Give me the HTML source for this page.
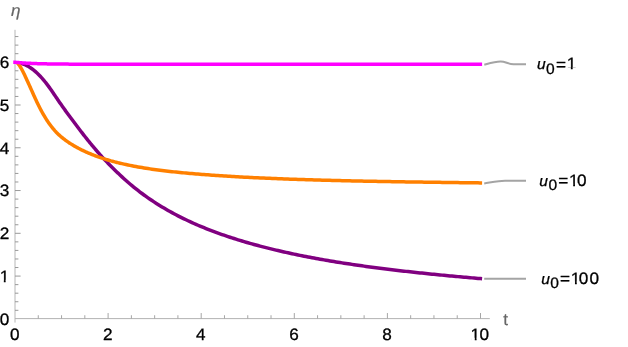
<!DOCTYPE html>
<html><head><meta charset="utf-8"><title>plot</title>
<style>
html,body{margin:0;padding:0;background:#fff;}
body{width:628px;height:347px;overflow:hidden;font-family:"Liberation Sans",sans-serif;}
svg{display:block;will-change:transform;}
svg text{font-family:"Liberation Sans",sans-serif;text-rendering:geometricPrecision;}
</style></head><body>
<svg width="628" height="347" viewBox="0 0 628 347">
<rect width="628" height="347" fill="#fff"/>
<g stroke-width="1" fill="none">
<line stroke="#b6b6b6" x1="15.0" y1="29.8" x2="15.0" y2="322.6"/>
<line stroke="#b2b2b2" x1="15.0" y1="318.62" x2="489.8" y2="318.62"/>
<g stroke="#999"><line x1="15.00" y1="310.30" x2="18.40" y2="310.30"/><line x1="15.00" y1="301.74" x2="18.40" y2="301.74"/><line x1="15.00" y1="293.19" x2="18.40" y2="293.19"/><line x1="15.00" y1="284.63" x2="18.40" y2="284.63"/><line x1="15.00" y1="276.08" x2="20.60" y2="276.08"/><line x1="15.00" y1="267.53" x2="18.40" y2="267.53"/><line x1="15.00" y1="258.97" x2="18.40" y2="258.97"/><line x1="15.00" y1="250.42" x2="18.40" y2="250.42"/><line x1="15.00" y1="241.86" x2="18.40" y2="241.86"/><line x1="15.00" y1="233.31" x2="20.60" y2="233.31"/><line x1="15.00" y1="224.76" x2="18.40" y2="224.76"/><line x1="15.00" y1="216.20" x2="18.40" y2="216.20"/><line x1="15.00" y1="207.65" x2="18.40" y2="207.65"/><line x1="15.00" y1="199.09" x2="18.40" y2="199.09"/><line x1="15.00" y1="190.54" x2="20.60" y2="190.54"/><line x1="15.00" y1="181.99" x2="18.40" y2="181.99"/><line x1="15.00" y1="173.43" x2="18.40" y2="173.43"/><line x1="15.00" y1="164.88" x2="18.40" y2="164.88"/><line x1="15.00" y1="156.32" x2="18.40" y2="156.32"/><line x1="15.00" y1="147.77" x2="20.60" y2="147.77"/><line x1="15.00" y1="139.22" x2="18.40" y2="139.22"/><line x1="15.00" y1="130.66" x2="18.40" y2="130.66"/><line x1="15.00" y1="122.11" x2="18.40" y2="122.11"/><line x1="15.00" y1="113.55" x2="18.40" y2="113.55"/><line x1="15.00" y1="105.00" x2="20.60" y2="105.00"/><line x1="15.00" y1="96.45" x2="18.40" y2="96.45"/><line x1="15.00" y1="87.89" x2="18.40" y2="87.89"/><line x1="15.00" y1="79.34" x2="18.40" y2="79.34"/><line x1="15.00" y1="70.78" x2="18.40" y2="70.78"/><line x1="15.00" y1="62.23" x2="20.60" y2="62.23"/><line x1="15.00" y1="53.68" x2="18.40" y2="53.68"/><line x1="15.00" y1="45.12" x2="18.40" y2="45.12"/><line x1="15.00" y1="36.57" x2="18.40" y2="36.57"/></g>
<g stroke="#a6a6a6"><line x1="38.27" y1="318.62" x2="38.27" y2="315.22"/><line x1="61.55" y1="318.62" x2="61.55" y2="315.22"/><line x1="84.82" y1="318.62" x2="84.82" y2="315.22"/><line x1="108.10" y1="318.62" x2="108.10" y2="313.02"/><line x1="131.38" y1="318.62" x2="131.38" y2="315.22"/><line x1="154.65" y1="318.62" x2="154.65" y2="315.22"/><line x1="177.92" y1="318.62" x2="177.92" y2="315.22"/><line x1="201.20" y1="318.62" x2="201.20" y2="313.02"/><line x1="224.47" y1="318.62" x2="224.47" y2="315.22"/><line x1="247.75" y1="318.62" x2="247.75" y2="315.22"/><line x1="271.02" y1="318.62" x2="271.02" y2="315.22"/><line x1="294.30" y1="318.62" x2="294.30" y2="313.02"/><line x1="317.57" y1="318.62" x2="317.57" y2="315.22"/><line x1="340.85" y1="318.62" x2="340.85" y2="315.22"/><line x1="364.12" y1="318.62" x2="364.12" y2="315.22"/><line x1="387.40" y1="318.62" x2="387.40" y2="313.02"/><line x1="410.67" y1="318.62" x2="410.67" y2="315.22"/><line x1="433.95" y1="318.62" x2="433.95" y2="315.22"/><line x1="457.22" y1="318.62" x2="457.22" y2="315.22"/><line x1="480.50" y1="318.62" x2="480.50" y2="313.02"/></g>
</g>
<g font-size="16.5" fill="#000" stroke="#000" stroke-width="0.3" transform="scale(1.04 1)"><text x="8.85" y="324.70" text-anchor="end">0</text><text x="8.85" y="281.93" text-anchor="end">1</text><text x="8.85" y="239.16" text-anchor="end">2</text><text x="8.85" y="196.39" text-anchor="end">3</text><text x="8.85" y="153.62" text-anchor="end">4</text><text x="8.85" y="110.85" text-anchor="end">5</text><text x="8.85" y="68.08" text-anchor="end">6</text><text x="14.13" y="339.9" text-anchor="middle">0</text><text x="103.65" y="339.9" text-anchor="middle">2</text><text x="193.17" y="339.9" text-anchor="middle">4</text><text x="282.69" y="339.9" text-anchor="middle">6</text><text x="372.21" y="339.9" text-anchor="middle">8</text><text x="452.50 461.15" y="339.9">10</text></g>
<text x="10.67" y="16.2" transform="scale(1.04 1)" font-size="16.5" font-style="italic" fill="#666" stroke="#666" stroke-width="0.2">η</text>
<text x="483.94" y="325.2" transform="scale(1.04 1)" font-size="16.5" fill="#666" stroke="#666" stroke-width="0.2">t</text>
<g fill="none" stroke-width="3.5" stroke-linecap="butt" stroke-linejoin="round">
<path stroke="#800080" d="M19.50,63.10 L20.25,63.25 L21.00,63.42 L21.75,63.62 L22.50,63.84 L23.25,64.08 L24.00,64.36 L24.75,64.65 L25.50,64.98 L26.25,65.33 L27.00,65.70 L27.75,66.10 L28.50,66.53 L29.25,66.98 L30.00,67.45 L30.75,67.95 L31.50,68.48 L32.25,69.03 L33.00,69.60 L33.75,70.19 L34.50,70.81 L35.25,71.45 L36.00,72.11 L36.75,72.80 L37.50,73.51 L38.25,74.23 L39.00,74.99 L39.75,75.76 L40.50,76.55 L41.25,77.36 L42.00,78.20 L42.75,79.05 L43.50,79.93 L44.25,80.83 L45.00,81.74 L45.75,82.68 L46.50,83.63 L47.25,84.61 L48.00,85.60 L48.75,86.61 L49.50,87.64 L50.25,88.69 L51.00,89.76 L51.75,90.84 L52.50,91.94 L53.25,93.04 L54.00,94.15 L54.75,95.26 L55.50,96.38 L56.25,97.49 L57.00,98.60 L57.75,99.70 L58.50,100.80 L59.25,101.89 L60.00,102.98 L60.75,104.05 L61.50,105.12 L62.25,106.19 L63.00,107.25 L63.75,108.30 L64.50,109.34 L65.25,110.38 L66.00,111.42 L66.75,112.45 L67.50,113.48 L68.25,114.50 L69.00,115.52 L69.75,116.54 L70.50,117.55 L71.25,118.56 L72.00,119.57 L72.75,120.57 L73.50,121.57 L74.25,122.57 L75.00,123.57 L75.75,124.57 L76.50,125.56 L77.25,126.55 L78.00,127.54 L78.75,128.52 L79.50,129.50 L80.25,130.48 L81.00,131.45 L81.75,132.43 L82.50,133.39 L83.25,134.36 L84.00,135.31 L84.75,136.27 L85.50,137.22 L86.25,138.17 L87.00,139.11 L87.75,140.04 L88.50,140.98 L89.25,141.90 L90.00,142.83 L90.75,143.74 L91.50,144.65 L92.25,145.56 L93.00,146.46 L93.75,147.35 L94.50,148.24 L95.25,149.13 L96.00,150.00 L96.75,150.87 L97.50,151.74 L98.25,152.60 L99.00,153.45 L99.75,154.30 L100.50,155.14 L101.25,155.97 L102.00,156.80 L102.75,157.62 L103.50,158.44 L104.25,159.24 L105.00,160.05 L105.75,160.84 L106.50,161.63 L107.25,162.41 L108.00,163.19 L108.75,163.96 L109.50,164.73 L110.25,165.49 L111.00,166.24 L111.75,167.00 L112.50,167.74 L113.25,168.49 L114.00,169.23 L114.75,169.97 L115.50,170.70 L116.25,171.43 L117.00,172.16 L117.75,172.88 L118.50,173.60 L119.25,174.31 L120.00,175.02 L122.00,176.89 L124.00,178.72 L126.00,180.51 L128.00,182.27 L130.00,183.98 L132.00,185.66 L134.00,187.30 L136.00,188.91 L138.00,190.48 L140.00,192.02 L142.00,193.52 L144.00,194.99 L146.00,196.43 L148.00,197.84 L150.00,199.22 L152.00,200.57 L154.00,201.89 L156.00,203.18 L158.00,204.45 L160.00,205.69 L162.00,206.91 L164.00,208.10 L166.00,209.27 L168.00,210.42 L170.00,211.54 L172.00,212.65 L174.00,213.73 L176.00,214.79 L178.00,215.83 L180.00,216.85 L182.00,217.85 L184.00,218.83 L186.00,219.79 L188.00,220.74 L190.00,221.67 L192.00,222.58 L194.00,223.48 L196.00,224.36 L198.00,225.23 L200.00,226.08 L202.00,226.91 L204.00,227.73 L206.00,228.54 L208.00,229.33 L210.00,230.11 L212.00,230.88 L214.00,231.63 L216.00,232.38 L218.00,233.11 L220.00,233.82 L222.00,234.53 L224.00,235.22 L226.00,235.91 L228.00,236.58 L230.00,237.24 L232.00,237.90 L234.00,238.54 L236.00,239.17 L238.00,239.80 L240.00,240.41 L242.00,241.02 L244.00,241.61 L246.00,242.20 L248.00,242.78 L250.00,243.35 L252.00,243.91 L254.00,244.47 L256.00,245.02 L258.00,245.56 L260.00,246.09 L262.00,246.61 L264.00,247.13 L266.00,247.64 L268.00,248.15 L270.00,248.64 L272.00,249.13 L274.00,249.62 L276.00,250.10 L278.00,250.57 L280.00,251.03 L282.00,251.49 L284.00,251.94 L286.00,252.39 L288.00,252.83 L290.00,253.27 L292.00,253.70 L294.00,254.12 L296.00,254.54 L298.00,254.95 L300.00,255.36 L302.00,255.76 L304.00,256.16 L306.00,256.56 L308.00,256.94 L310.00,257.33 L312.00,257.71 L314.00,258.08 L316.00,258.45 L318.00,258.81 L320.00,259.17 L322.00,259.53 L324.00,259.88 L326.00,260.23 L328.00,260.57 L330.00,260.91 L332.00,261.25 L334.00,261.58 L336.00,261.91 L338.00,262.23 L340.00,262.55 L342.00,262.87 L344.00,263.18 L346.00,263.49 L348.00,263.79 L350.00,264.10 L352.00,264.39 L354.00,264.69 L356.00,264.98 L358.00,265.27 L360.00,265.56 L362.00,265.84 L364.00,266.12 L366.00,266.40 L368.00,266.67 L370.00,266.94 L372.00,267.21 L374.00,267.47 L376.00,267.74 L378.00,268.00 L380.00,268.25 L382.00,268.51 L384.00,268.76 L386.00,269.01 L388.00,269.26 L390.00,269.50 L392.00,269.74 L394.00,269.98 L396.00,270.22 L398.00,270.46 L400.00,270.69 L402.00,270.92 L404.00,271.15 L406.00,271.37 L408.00,271.60 L410.00,271.82 L412.00,272.04 L414.00,272.26 L416.00,272.47 L418.00,272.69 L420.00,272.90 L422.00,273.11 L424.00,273.32 L426.00,273.53 L428.00,273.73 L430.00,273.94 L432.00,274.14 L434.00,274.34 L436.00,274.54 L438.00,274.73 L440.00,274.93 L442.00,275.12 L444.00,275.32 L446.00,275.51 L448.00,275.70 L450.00,275.89 L452.00,276.07 L454.00,276.26 L456.00,276.44 L458.00,276.62 L460.00,276.81 L462.00,276.99 L464.00,277.17 L466.00,277.34 L468.00,277.52 L470.00,277.70 L472.00,277.87 L474.00,278.04 L476.00,278.22 L478.00,278.39 L480.00,278.56 L480.50,278.60 L482.10,278.74"/>
<path stroke="#ff8000" d="M17.25,62.87 L18.00,63.63 L18.75,64.54 L19.50,65.59 L20.25,66.75 L21.00,68.01 L21.75,69.35 L22.50,70.76 L23.25,72.23 L24.00,73.75 L24.75,75.31 L25.50,76.90 L26.25,78.52 L27.00,80.16 L27.75,81.80 L28.50,83.47 L29.25,85.13 L30.00,86.81 L30.75,88.48 L31.50,90.16 L32.25,91.83 L33.00,93.50 L33.75,95.17 L34.50,96.82 L35.25,98.45 L36.00,100.06 L36.75,101.66 L37.50,103.22 L38.25,104.76 L39.00,106.27 L39.75,107.75 L40.50,109.19 L41.25,110.60 L42.00,111.98 L42.75,113.33 L43.50,114.64 L44.25,115.92 L45.00,117.17 L45.75,118.39 L46.50,119.57 L47.25,120.73 L48.00,121.85 L48.75,122.94 L49.50,124.00 L50.25,125.03 L51.00,126.03 L51.75,127.00 L52.50,127.94 L53.25,128.84 L54.00,129.72 L54.75,130.57 L55.50,131.38 L56.25,132.18 L57.00,132.94 L57.75,133.69 L58.50,134.41 L59.25,135.11 L60.00,135.78 L60.75,136.44 L61.50,137.08 L62.25,137.70 L63.00,138.31 L63.75,138.90 L64.50,139.48 L65.25,140.04 L66.00,140.59 L66.75,141.13 L67.50,141.65 L68.25,142.17 L69.00,142.67 L69.75,143.17 L70.50,143.65 L71.25,144.13 L72.00,144.59 L72.75,145.05 L73.50,145.50 L74.25,145.94 L75.00,146.38 L75.75,146.80 L76.50,147.22 L77.25,147.63 L78.00,148.04 L78.75,148.43 L79.50,148.82 L80.25,149.21 L81.00,149.59 L81.75,149.96 L82.50,150.32 L83.25,150.68 L84.00,151.04 L84.75,151.39 L85.50,151.73 L86.25,152.07 L87.00,152.40 L87.75,152.73 L88.50,153.05 L89.25,153.37 L90.00,153.68 L90.75,153.99 L91.50,154.30 L92.25,154.60 L93.00,154.89 L93.75,155.19 L94.50,155.47 L95.25,155.76 L96.00,156.03 L96.75,156.31 L97.50,156.58 L98.25,156.85 L99.00,157.11 L99.75,157.37 L100.50,157.63 L101.25,157.88 L102.00,158.13 L102.75,158.37 L103.50,158.62 L104.25,158.86 L105.00,159.09 L105.75,159.32 L106.50,159.55 L107.25,159.78 L108.00,160.00 L108.75,160.22 L109.50,160.44 L110.25,160.65 L111.00,160.87 L111.75,161.07 L112.50,161.28 L113.25,161.48 L114.00,161.68 L114.75,161.88 L115.50,162.08 L116.25,162.27 L117.00,162.46 L117.75,162.65 L118.50,162.83 L119.25,163.02 L120.00,163.20 L122.00,163.67 L124.00,164.12 L126.00,164.56 L128.00,164.99 L130.00,165.40 L132.00,165.79 L134.00,166.18 L136.00,166.55 L138.00,166.91 L140.00,167.26 L142.00,167.60 L144.00,167.93 L146.00,168.25 L148.00,168.56 L150.00,168.86 L152.00,169.15 L154.00,169.44 L156.00,169.71 L158.00,169.98 L160.00,170.24 L162.00,170.49 L164.00,170.74 L166.00,170.97 L168.00,171.21 L170.00,171.43 L172.00,171.65 L174.00,171.87 L176.00,172.08 L178.00,172.28 L180.00,172.48 L182.00,172.68 L184.00,172.87 L186.00,173.06 L188.00,173.24 L190.00,173.42 L192.00,173.59 L194.00,173.76 L196.00,173.93 L198.00,174.09 L200.00,174.26 L202.00,174.41 L204.00,174.57 L206.00,174.72 L208.00,174.87 L210.00,175.02 L212.00,175.16 L214.00,175.30 L216.00,175.44 L218.00,175.58 L220.00,175.71 L222.00,175.84 L224.00,175.97 L226.00,176.10 L228.00,176.22 L230.00,176.34 L232.00,176.46 L234.00,176.58 L236.00,176.69 L238.00,176.81 L240.00,176.92 L242.00,177.03 L244.00,177.13 L246.00,177.24 L248.00,177.34 L250.00,177.44 L252.00,177.54 L254.00,177.64 L256.00,177.74 L258.00,177.83 L260.00,177.92 L262.00,178.02 L264.00,178.11 L266.00,178.19 L268.00,178.28 L270.00,178.37 L272.00,178.45 L274.00,178.53 L276.00,178.61 L278.00,178.69 L280.00,178.77 L282.00,178.85 L284.00,178.92 L286.00,179.00 L288.00,179.07 L290.00,179.14 L292.00,179.21 L294.00,179.28 L296.00,179.35 L298.00,179.42 L300.00,179.48 L302.00,179.55 L304.00,179.61 L306.00,179.67 L308.00,179.74 L310.00,179.80 L312.00,179.86 L314.00,179.92 L316.00,179.97 L318.00,180.03 L320.00,180.09 L322.00,180.14 L324.00,180.20 L326.00,180.25 L328.00,180.30 L330.00,180.36 L332.00,180.41 L334.00,180.46 L336.00,180.51 L338.00,180.56 L340.00,180.60 L342.00,180.65 L344.00,180.70 L346.00,180.74 L348.00,180.79 L350.00,180.83 L352.00,180.88 L354.00,180.92 L356.00,180.97 L358.00,181.01 L360.00,181.05 L362.00,181.09 L364.00,181.13 L366.00,181.17 L368.00,181.21 L370.00,181.25 L372.00,181.29 L374.00,181.33 L376.00,181.36 L378.00,181.40 L380.00,181.44 L382.00,181.47 L384.00,181.51 L386.00,181.55 L388.00,181.58 L390.00,181.62 L392.00,181.65 L394.00,181.68 L396.00,181.72 L398.00,181.75 L400.00,181.78 L402.00,181.81 L404.00,181.85 L406.00,181.88 L408.00,181.91 L410.00,181.94 L412.00,181.97 L414.00,182.00 L416.00,182.03 L418.00,182.06 L420.00,182.09 L422.00,182.12 L424.00,182.15 L426.00,182.18 L428.00,182.21 L430.00,182.24 L432.00,182.26 L434.00,182.29 L436.00,182.32 L438.00,182.35 L440.00,182.37 L442.00,182.40 L444.00,182.43 L446.00,182.46 L448.00,182.48 L450.00,182.51 L452.00,182.54 L454.00,182.56 L456.00,182.59 L458.00,182.61 L460.00,182.64 L462.00,182.67 L464.00,182.69 L466.00,182.72 L468.00,182.74 L470.00,182.77 L472.00,182.79 L474.00,182.82 L476.00,182.84 L478.00,182.87 L480.00,182.89 L480.50,182.90 L482.10,182.92"/>
<path stroke="#ff00ff" d="M13.25,62.30 L15.00,62.30 L15.75,62.36 L16.50,62.42 L17.25,62.49 L18.00,62.55 L18.75,62.61 L19.50,62.67 L20.25,62.72 L21.00,62.78 L21.75,62.83 L22.50,62.89 L23.25,62.94 L24.00,62.99 L24.75,63.04 L25.50,63.08 L26.25,63.13 L27.00,63.17 L27.75,63.21 L28.50,63.25 L29.25,63.29 L30.00,63.33 L30.75,63.37 L31.50,63.40 L32.25,63.44 L33.00,63.47 L33.75,63.50 L34.50,63.53 L35.25,63.56 L36.00,63.59 L36.75,63.61 L37.50,63.64 L38.25,63.66 L39.00,63.68 L39.75,63.71 L40.50,63.73 L41.25,63.75 L42.00,63.77 L42.75,63.79 L43.50,63.80 L44.25,63.82 L45.00,63.84 L45.75,63.85 L46.50,63.87 L47.25,63.88 L48.00,63.90 L48.75,63.91 L49.50,63.92 L50.25,63.94 L51.00,63.95 L51.75,63.96 L52.50,63.97 L53.25,63.98 L54.00,63.99 L54.75,64.00 L55.50,64.01 L56.25,64.02 L57.00,64.03 L57.75,64.04 L58.50,64.04 L59.25,64.05 L60.00,64.06 L60.75,64.07 L61.50,64.07 L62.25,64.08 L63.00,64.08 L63.75,64.09 L64.50,64.10 L65.25,64.10 L66.00,64.11 L66.75,64.11 L67.50,64.12 L68.25,64.12 L69.00,64.13 L69.75,64.13 L70.50,64.13 L71.25,64.14 L72.00,64.14 L72.75,64.14 L73.50,64.15 L74.25,64.15 L75.00,64.15 L75.75,64.16 L76.50,64.16 L77.25,64.16 L78.00,64.16 L78.75,64.17 L79.50,64.17 L80.25,64.17 L81.00,64.17 L81.75,64.17 L82.50,64.18 L83.25,64.18 L84.00,64.18 L84.75,64.18 L85.50,64.18 L86.25,64.18 L87.00,64.18 L87.75,64.18 L88.50,64.19 L89.25,64.19 L90.00,64.19 L90.75,64.19 L91.50,64.19 L92.25,64.19 L93.00,64.19 L93.75,64.19 L94.50,64.19 L95.25,64.19 L96.00,64.19 L96.75,64.19 L97.50,64.19 L98.25,64.19 L99.00,64.19 L99.75,64.19 L100.50,64.19 L101.25,64.19 L102.00,64.19 L102.75,64.19 L103.50,64.19 L104.25,64.19 L105.00,64.19 L105.75,64.19 L106.50,64.19 L107.25,64.19 L108.00,64.19 L108.75,64.19 L109.50,64.19 L110.25,64.19 L111.00,64.19 L111.75,64.19 L112.50,64.19 L113.25,64.19 L114.00,64.19 L114.75,64.19 L115.50,64.19 L116.25,64.19 L117.00,64.19 L117.75,64.19 L118.50,64.19 L119.25,64.19 L120.00,64.19 L122.00,64.19 L124.00,64.19 L126.00,64.19 L128.00,64.19 L130.00,64.19 L132.00,64.19 L134.00,64.19 L136.00,64.19 L138.00,64.19 L140.00,64.19 L142.00,64.19 L144.00,64.19 L146.00,64.19 L148.00,64.19 L150.00,64.19 L152.00,64.19 L154.00,64.19 L156.00,64.19 L158.00,64.19 L160.00,64.19 L162.00,64.19 L164.00,64.19 L166.00,64.19 L168.00,64.19 L170.00,64.19 L172.00,64.19 L174.00,64.19 L176.00,64.19 L178.00,64.19 L180.00,64.19 L182.00,64.19 L184.00,64.19 L186.00,64.19 L188.00,64.19 L190.00,64.19 L192.00,64.19 L194.00,64.19 L196.00,64.19 L198.00,64.19 L200.00,64.19 L202.00,64.19 L204.00,64.19 L206.00,64.19 L208.00,64.19 L210.00,64.19 L212.00,64.19 L214.00,64.19 L216.00,64.19 L218.00,64.19 L220.00,64.19 L222.00,64.19 L224.00,64.19 L226.00,64.19 L228.00,64.19 L230.00,64.19 L232.00,64.19 L234.00,64.19 L236.00,64.19 L238.00,64.19 L240.00,64.19 L242.00,64.19 L244.00,64.19 L246.00,64.19 L248.00,64.19 L250.00,64.19 L252.00,64.19 L254.00,64.19 L256.00,64.19 L258.00,64.19 L260.00,64.19 L262.00,64.19 L264.00,64.19 L266.00,64.19 L268.00,64.19 L270.00,64.19 L272.00,64.19 L274.00,64.19 L276.00,64.19 L278.00,64.19 L280.00,64.19 L282.00,64.19 L284.00,64.19 L286.00,64.19 L288.00,64.19 L290.00,64.19 L292.00,64.19 L294.00,64.19 L296.00,64.19 L298.00,64.19 L300.00,64.20 L302.00,64.20 L304.00,64.20 L306.00,64.20 L308.00,64.20 L310.00,64.20 L312.00,64.20 L314.00,64.20 L316.00,64.21 L318.00,64.21 L320.00,64.21 L322.00,64.21 L324.00,64.21 L326.00,64.21 L328.00,64.21 L330.00,64.21 L332.00,64.21 L334.00,64.21 L336.00,64.22 L338.00,64.22 L340.00,64.22 L342.00,64.22 L344.00,64.22 L346.00,64.22 L348.00,64.22 L350.00,64.22 L352.00,64.22 L354.00,64.22 L356.00,64.22 L358.00,64.22 L360.00,64.22 L362.00,64.23 L364.00,64.23 L366.00,64.23 L368.00,64.23 L370.00,64.23 L372.00,64.23 L374.00,64.23 L376.00,64.23 L378.00,64.23 L380.00,64.23 L382.00,64.23 L384.00,64.23 L386.00,64.23 L388.00,64.23 L390.00,64.23 L392.00,64.23 L394.00,64.23 L396.00,64.23 L398.00,64.23 L400.00,64.23 L402.00,64.23 L404.00,64.23 L406.00,64.23 L408.00,64.23 L410.00,64.23 L412.00,64.23 L414.00,64.23 L416.00,64.23 L418.00,64.23 L420.00,64.23 L422.00,64.23 L424.00,64.23 L426.00,64.23 L428.00,64.23 L430.00,64.23 L432.00,64.23 L434.00,64.23 L436.00,64.23 L438.00,64.23 L440.00,64.23 L442.00,64.23 L444.00,64.23 L446.00,64.23 L448.00,64.23 L450.00,64.23 L452.00,64.23 L454.00,64.23 L456.00,64.23 L458.00,64.23 L460.00,64.23 L462.00,64.23 L464.00,64.23 L466.00,64.23 L468.00,64.23 L470.00,64.23 L472.00,64.23 L474.00,64.23 L476.00,64.23 L478.00,64.23 L480.00,64.23 L480.50,64.23 L482.10,64.23"/>
</g>
<g fill="none" stroke="#a4a4a4" stroke-width="2" stroke-linecap="butt">
<path d="M484.3,64.7 C489,63.4 495,61.5 500.500,61.5 C506,61.5 507.500,64.15 513.500,64.15 L526,64.15"/>
<path d="M484.2,183.4 C492,182.2 499,180.75 505,180.75 L526,180.75"/>
<path d="M484.2,278.7 L526,278.7"/>
</g>
<g font-size="16.5" fill="#000" stroke="#000" stroke-width="0.3" transform="scale(1.04 1)">
<text y="69.4"><tspan x="516.39" font-style="italic" font-size="15.0">u</tspan><tspan x="525.09" dy="4.3" font-size="15.0">0</tspan><tspan x="534.56" dy="-3.9">=</tspan><tspan x="544.90" dy="-0.4">1</tspan></text>
<text y="185.8"><tspan x="518.60" font-style="italic" font-size="15.0">u</tspan><tspan x="527.30" dy="4.3" font-size="15.0">0</tspan><tspan x="536.77" dy="-3.9">=</tspan><tspan x="547.12" dy="-0.4">1</tspan><tspan x="554.81">0</tspan></text>
<text y="283.6"><tspan x="520.33" font-style="italic" font-size="15.0">u</tspan><tspan x="529.03" dy="4.3" font-size="15.0">0</tspan><tspan x="538.50" dy="-3.9">=</tspan><tspan x="548.85" dy="-0.4">1</tspan><tspan x="556.54">0</tspan><tspan x="566.83">0</tspan></text>
</g>
<g fill="#fff"><rect x="0.16" y="279.85" width="3.66" height="3.93"/><rect x="5.64" y="279.85" width="3.52" height="3.93"/><rect x="471.10" y="337.82" width="3.66" height="3.93"/><rect x="476.58" y="337.82" width="3.52" height="3.93"/><rect x="567.20" y="67.32" width="3.66" height="3.93"/><rect x="572.68" y="67.32" width="3.52" height="3.93"/><rect x="569.50" y="183.72" width="3.66" height="3.93"/><rect x="574.98" y="183.72" width="3.52" height="3.93"/><rect x="571.30" y="281.52" width="3.66" height="3.93"/><rect x="576.78" y="281.52" width="3.52" height="3.93"/></g>
</svg>
</body></html>
